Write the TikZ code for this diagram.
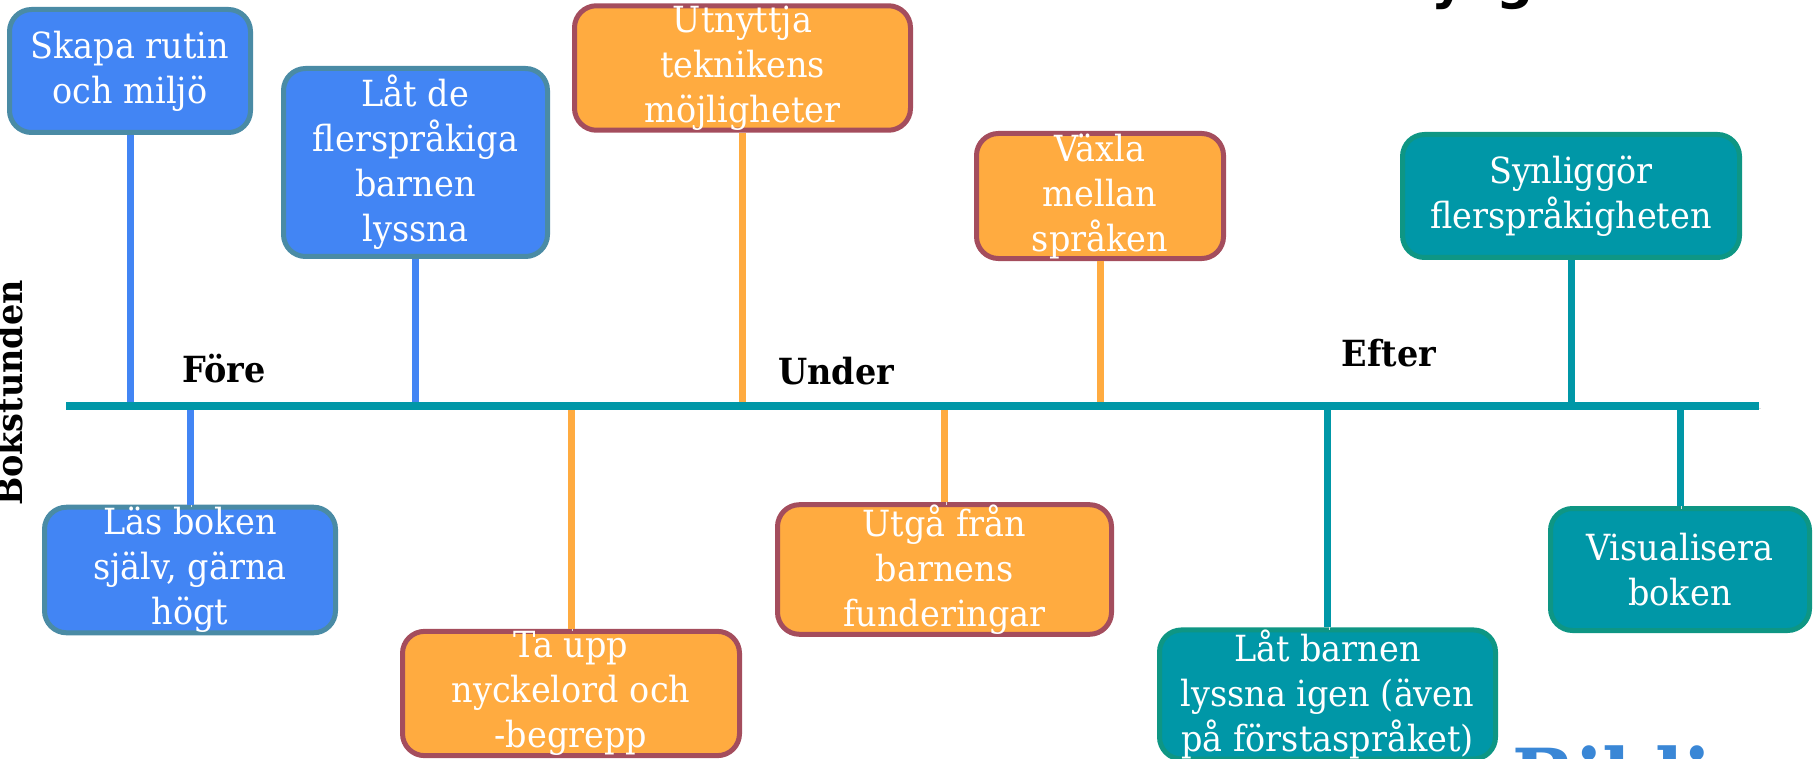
\documentclass[tikz,border=0pt]{standalone}
\usepackage{fontspec}
\setmainfont{DejaVu Serif}[FakeStretch=0.93]
\newfontfamily\titlefont{DejaVu Sans}

\definecolor{foreblue}{RGB}{66,133,244}
\definecolor{foreedge}{RGB}{74,139,165}
\definecolor{underorange}{RGB}{255,171,64}
\definecolor{underedge}{RGB}{164,77,93}
\definecolor{efterteal}{RGB}{0,151,167}
\definecolor{efteredge}{RGB}{14,150,132}
\definecolor{bibliblue}{RGB}{58,135,214}

\newcommand{\boxfont}{\fontsize{36}{45}\selectfont}
\newcommand{\phasefont}{\fontsize{36}{44}\selectfont\bfseries}

\tikzset{
  stagebox/.style={rounded corners=22pt, line width=5pt, text=white,
    align=center, font=\boxfont, inner sep=0pt},
  forebox/.style={stagebox, fill=foreblue, draw=foreedge},
  underbox/.style={stagebox, fill=underorange, draw=underedge},
  efterbox/.style={stagebox, fill=efterteal, draw=efteredge},
  stemline/.style={line width=7pt,
    preaction={draw=black!12, transform canvas={shift={(1.5pt,-2.5pt)}}}},
  phase/.style={font=\phasefont, anchor=base, inner sep=0pt},
}

\begin{document}
\begin{tikzpicture}[x=1pt,y=-1pt]
  \useasboundingbox (0,0) rectangle (1814,759);

  % timeline
  \coordinate (tl-start) at (66,406);
  \coordinate (tl-end) at (1759,406);

  % boxes above the line
  \node[forebox, minimum width=241pt, minimum height=123pt] (skapa) at (130,71) {Skapa rutin\\och miljö};
  \node[forebox, minimum width=264pt, minimum height=188pt] (latde) at (415.5,162.5) {Låt de\\flerspråkiga\\barnen\\lyssna};
  \node[underbox, minimum width=336pt, minimum height=123pt] (utnyttja) at (742.5,68) {Utnyttja\\teknikens\\möjligheter};
  \node[underbox, minimum width=247pt, minimum height=121pt] (vaxla) at (1100,196) {Växla\\mellan\\språken};
  \node[efterbox, minimum width=337pt, minimum height=123pt] (synlig) at (1571,196) {Synliggör\\flerspråkigheten};

  % boxes below the line
  \node[forebox, minimum width=291pt, minimum height=125pt] (lasboken) at (190,570) {Läs boken\\själv, gärna\\högt};
  \node[underbox, minimum width=337pt, minimum height=122pt] (taupp) at (571,693.5) {Ta upp\\nyckelord och\\-begrepp};
  \node[underbox, minimum width=334pt, minimum height=122pt] (utga) at (944.5,569.5) {Utgå från\\barnens\\funderingar};
  \node[efterbox, minimum width=336pt, minimum height=120pt] (latbarn) at (1327.5,694.5) {Låt barnen\\lyssna igen (även\\på förstaspråket)};
  \node[efterbox, minimum width=259pt, minimum height=122pt] (visual) at (1680,569.5) {Visualisera\\boken};

  % stems
  \foreach \n/\c in {skapa/foreblue, latde/foreblue, utnyttja/underorange, vaxla/underorange, synlig/efterteal}
    \draw[stemline, draw=\c] (\n.south) -- (\n.south |- tl-start);
  \foreach \n/\c in {lasboken/foreblue, taupp/underorange, utga/underorange, latbarn/efterteal, visual/efterteal}
    \draw[stemline, draw=\c] (\n.north) -- (\n.north |- tl-start);

  \draw[stemline, draw=efterteal, line width=8pt] (tl-start) -- (tl-end);

  % phase labels
  \node[phase] (fore) at (224,382) {Före};
  \node[phase] (under) at (836,384) {Under};
  \node[phase] (efter) at (1389,366) {Efter};
  \node[phase, rotate=90] (bokstunden) at (23,393) {Bokstunden};

  % cut-off headings
  \node[font=\titlefont\fontsize{52}{60}\selectfont\bfseries, anchor=base, inner sep=0pt] (title-y) at (1448,-1) {y};
  \node[font=\titlefont\fontsize{52}{60}\selectfont\bfseries, anchor=base, inner sep=0pt] (title-g) at (1515,-1) {g};
  \node[font=\phasefont\fontsize{80}{90}\selectfont, text=bibliblue, anchor=base west, inner sep=0pt] (bibli) at (1512,806) {Bibli};
\end{tikzpicture}
\end{document}
